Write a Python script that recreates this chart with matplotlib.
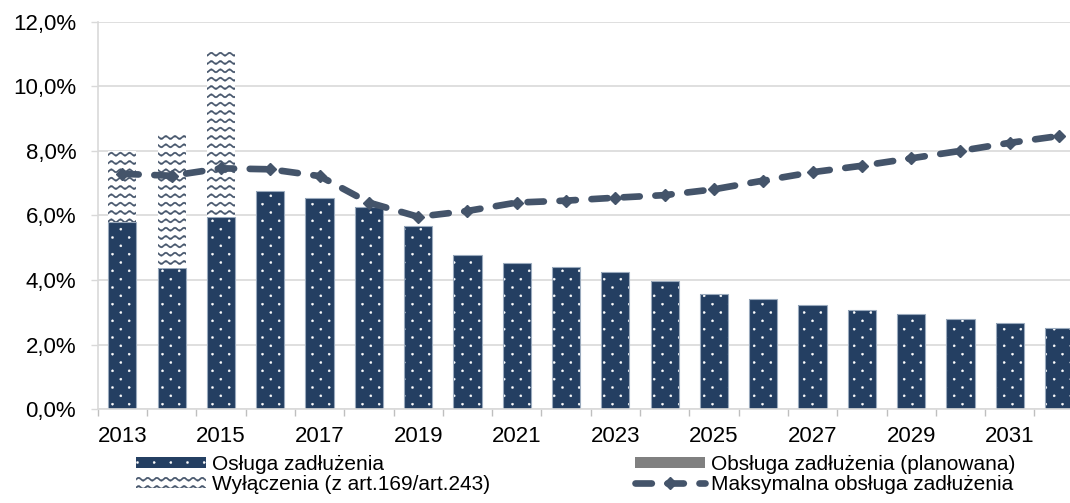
import warnings
import numpy as np
import matplotlib
matplotlib.use("Agg")
import matplotlib.pyplot as plt
from matplotlib import hatch as mhatch
from matplotlib.path import Path
from matplotlib.ticker import FuncFormatter, FixedLocator

warnings.filterwarnings("ignore")

############################################################
# Data (% of revenue)
############################################################

years = list(range(2013, 2033))

osluga = [5.81, 4.38, 5.96, 6.77, 6.53, 6.26, 5.67, 4.78, 4.54, 4.42,
          4.24, 3.97, 3.56, 3.41, 3.22, 3.08, 2.94, 2.79, 2.68, 2.52]

wylaczenia = [2.19, 4.16, 5.11, 0, 0, 0, 0, 0, 0, 0,
              0, 0, 0, 0, 0, 0, 0, 0, 0, 0]

planowana = [0] * 20

maksymalna = [7.29, 7.23, 7.46, 7.43, 7.22, 6.40, 5.96, 6.14, 6.40, 6.46,
              6.55, 6.63, 6.81, 7.08, 7.34, 7.54, 7.77, 8.00, 8.25, 8.46]

NAVY = "#243F62"
SLATE = "#44546A"
GRID = "#D9D9D9"

############################################################
# Custom hatches: "~" wavy lines, ":" staggered dots
############################################################

class WaveHatch(mhatch.HatchPatternBase):

    def __init__(self, hatch, density):
        self.rows = hatch.count("~") * 12
        self.npts = 133
        self.num_vertices = self.rows * (2 * self.npts + 1)

    def set_vertices_and_codes(self, vertices, codes):
        xs = np.linspace(0, 1, self.npts)
        wave = 0.013 * np.sin(2 * np.pi * 11 * xs)
        t = 0.008
        n = self.npts
        i = 0
        for r in range(self.rows):
            y0 = (r + 0.5) / self.rows
            vertices[i:i + n, 0] = xs
            vertices[i:i + n, 1] = y0 + wave + t
            vertices[i + n:i + 2 * n, 0] = xs[::-1]
            vertices[i + n:i + 2 * n, 1] = (y0 + wave - t)[::-1]
            vertices[i + 2 * n] = vertices[i]
            codes[i] = Path.MOVETO
            codes[i + 1:i + 2 * n] = Path.LINETO
            codes[i + 2 * n] = Path.CLOSEPOLY
            i += 2 * n + 1


class DotHatch(mhatch.HatchPatternBase):

    def __init__(self, hatch, density):
        k = hatch.count(":")
        self.rows = 12 * k
        self.cols = 6 * k
        self.circle = Path.unit_circle()
        self.num_vertices = self.rows * self.cols * len(self.circle.vertices)

    def set_vertices_and_codes(self, vertices, codes):
        cv = self.circle.vertices * 0.0105
        m = len(cv)
        i = 0
        for r in range(self.rows):
            for c in range(self.cols):
                cx = (c + 0.25 + 0.5 * (r % 2)) / self.cols
                cy = (r + 0.5) / self.rows
                vertices[i:i + m] = cv + [cx, cy]
                codes[i:i + m] = self.circle.codes
                i += m


mhatch._hatch_types.extend([WaveHatch, DotHatch])

plt.rcParams["font.family"] = ["Liberation Sans", "DejaVu Sans"]
plt.rcParams["hatch.linewidth"] = 0.3

############################################################
# Plot
############################################################

fig = plt.figure(figsize=(10.70, 5.03), dpi=100)
ax = fig.add_axes([97.7 / 1070, 0.1863, 986 / 1070, 0.7706])

x = np.arange(len(years))
w = 0.57

b1 = ax.bar(x, osluga, w, color=NAVY, edgecolor="white", hatch=":",
            linewidth=0, zorder=2, label="Osługa zadłużenia")
ax.bar(x, osluga, w, fill=False, edgecolor="#9AAABD", linewidth=0.8, zorder=2)

b2 = ax.bar(x, wylaczenia, w, bottom=osluga, color="white", edgecolor=SLATE,
            hatch="~", linewidth=0, zorder=2,
            label="Wyłączenia (z art.169/art.243)")

b3 = ax.bar(x, planowana, w, bottom=np.add(osluga, wylaczenia),
            color="#808080", linewidth=0, zorder=2,
            label="Obsługa zadłużenia (planowana)")

line, = ax.plot(x, maksymalna, color=SLATE, lw=4.8, dashes=(2.45, 2.35),
                dash_capstyle="round", solid_capstyle="round",
                marker="D", markersize=6.5, zorder=3,
                label="Maksymalna obsługa zadłużenia")

############################################################
# Axes styling
############################################################

ax.set_xlim(-0.5, len(years) - 0.5)
ax.set_ylim(0, 12)

ax.yaxis.set_major_locator(FixedLocator(np.arange(0, 12.1, 2)))
ax.yaxis.set_major_formatter(
    FuncFormatter(lambda v, p: f"{v:.1f}".replace(".", ",") + "%"))

ax.xaxis.set_major_locator(FixedLocator(x[::2]))
ax.set_xticklabels([str(y) for y in years[::2]])
ax.xaxis.set_minor_locator(FixedLocator(np.arange(-0.5, len(years), 1)))

ax.tick_params(axis="x", which="major", length=0, pad=12, labelsize=16)
ax.tick_params(axis="x", which="minor", length=5, width=1, color="#BFBFBF")
ax.tick_params(axis="y", length=5, width=1, color=GRID, pad=10.5,
               labelsize=16)

ax.grid(axis="y", color=GRID, linewidth=1.2, zorder=0)
ax.set_axisbelow(True)

for side in ["top", "right"]:
    ax.spines[side].set_visible(False)
for side in ["left", "bottom"]:
    ax.spines[side].set_color(GRID)
    ax.spines[side].set_linewidth(1.2)

############################################################
# Legend
############################################################

legend_kw = dict(
    loc="upper left",
    frameon=False,
    fontsize=15,
    borderpad=0,
    borderaxespad=0,
    handlelength=3.36,
    handleheight=0.48,
    handletextpad=0.31,
    labelspacing=0.05,
)

fig.legend([b1, b2], ["Osługa zadłużenia", "Wyłączenia (z art.169/art.243)"],
           bbox_to_anchor=(136 / 1070, (503 - 455) / 503), **legend_kw)

fig.legend([b3, line],
           ["Obsługa zadłużenia (planowana)", "Maksymalna obsługa zadłużenia"],
           bbox_to_anchor=(635 / 1070, (503 - 455) / 503), **legend_kw)

fig.savefig("out.png", dpi=100)
